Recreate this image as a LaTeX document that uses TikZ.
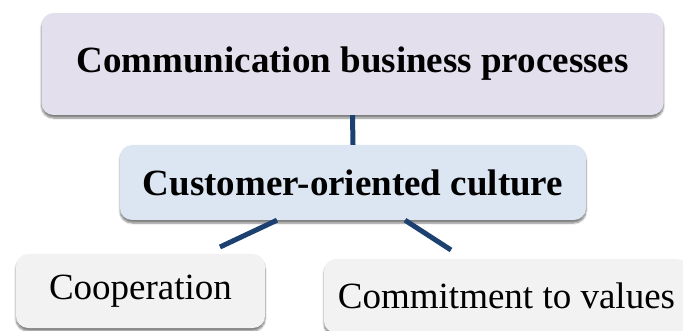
\documentclass[tikz,border=0pt]{standalone}
\usepackage{fontspec}
\setmainfont{Liberation Serif}
\usepackage{tikz}
\usetikzlibrary{shadows,shadows.blur}
\usetikzlibrary{calc}

\definecolor{lavbox}{RGB}{228,223,236}
\definecolor{bluebox}{RGB}{220,230,242}
\definecolor{greybox}{RGB}{242,242,242}
\definecolor{linkblue}{RGB}{28,65,112}

\begin{document}
\begin{tikzpicture}[x=1pt, y=-1pt,
  box/.style={rounded corners=12pt, inner sep=0pt, align=center,
    blur shadow={shadow xshift=0pt, shadow yshift=-3pt, shadow blur steps=6, shadow opacity=50},
    font=\fontsize{37}{44}\selectfont},
  link/.style={linkblue, line width=5pt}]

\useasboundingbox (0,0) rectangle (683,331);

\node[box, fill=lavbox, minimum width=622pt, minimum height=102pt, font=\fontsize{37}{44}\selectfont\bfseries] (procs) at (352.5,64) {Communication business processes};
\node[box, fill=bluebox, minimum width=466pt, minimum height=75pt, font=\fontsize{37}{44}\selectfont\bfseries] (culture) at (353,182.5) {Customer-oriented culture};
\node[box, fill=greybox, minimum width=249pt, minimum height=74pt] (coop) at (140.5,291) {Cooperation};
\node[box, fill=greybox, minimum width=365pt, minimum height=74pt] (values) at (506.5,296) {Commitment to values};

\coordinate (coopjoin) at (220,247);
\coordinate (valjoin) at (451,250);

\draw[link] (procs.south) -- (culture.north);
\draw[link] ([xshift=-76pt]culture.south) -- (coopjoin);
\draw[link] ([xshift=52pt]culture.south) -- (valjoin);

\end{tikzpicture}
\end{document}
